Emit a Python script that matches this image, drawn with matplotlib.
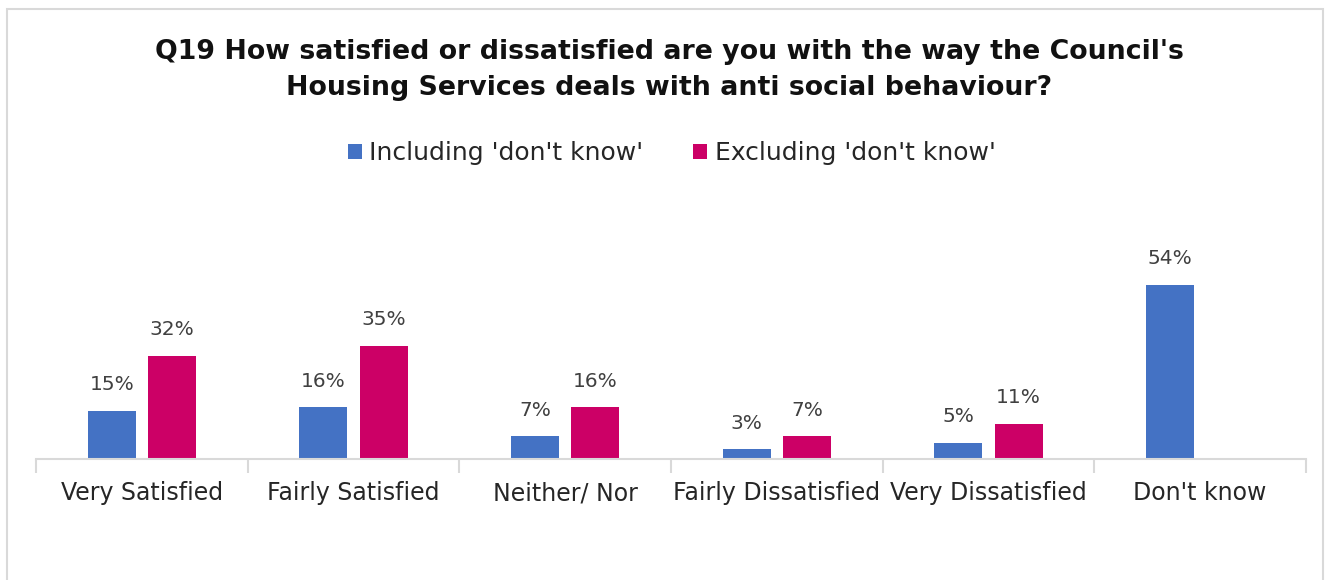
import matplotlib
matplotlib.use("Agg")
import matplotlib.pyplot as plt
import numpy as np
from matplotlib.patches import Rectangle

categories = ["Very Satisfied", "Fairly Satisfied", "Neither/ Nor",
              "Fairly Dissatisfied", "Very Dissatisfied", "Don't know"]
including_dk = [15, 16, 7, 3, 5, 54]
excluding_dk = [32, 35, 16, 7, 11, None]
series_names = ["Including 'don't know'", "Excluding 'don't know'"]
title = ("Q19 How satisfied or dissatisfied are you with the way the Council's\n"
         "Housing Services deals with anti social behaviour?")

blue = "#4472C4"
magenta = "#CC0066"
grey = "#D9D9D9"
font = ["DejaVu Sans"]

W, H = 1330, 580
fig = plt.figure(figsize=(W / 100, H / 100), dpi=100)

# light frame around the chart
fig.patches.append(Rectangle((7 / W, -0.01), (1323 - 7) / W, (H - 9) / H + 0.01,
                             transform=fig.transFigure, fill=False,
                             edgecolor=grey, linewidth=1.5))

ax = fig.add_axes([36 / W, (H - 459) / H, (1306 - 36) / W, (459 - 201) / H])

x = np.arange(len(categories))
bw = 0.227
off = 0.142

inc_x = x - off
exc_x = [xi + off for xi, v in zip(x, excluding_dk) if v is not None]
exc_v = [v for v in excluding_dk if v is not None]

b1 = ax.bar(inc_x, including_dk, width=bw, color=blue, label=series_names[0])
b2 = ax.bar(exc_x, exc_v, width=bw, color=magenta, label=series_names[1])

for rects, vals in ((b1, including_dk), (b2, exc_v)):
    for r, v in zip(rects, vals):
        ax.annotate(f"{v}%", (r.get_x() + r.get_width() / 2, v),
                    xytext=(0, 12), textcoords="offset points",
                    ha="center", va="bottom", fontsize=14.5,
                    color="#404040", family=font)

ax.set_xlim(-0.5, len(categories) - 0.5)
ax.set_ylim(0, 80)
ax.set_yticks([])
for s in ("top", "right", "left"):
    ax.spines[s].set_visible(False)
ax.spines["bottom"].set_color(grey)
ax.spines["bottom"].set_linewidth(1.5)

# category boundary tick marks
ax.set_xticks(np.arange(-0.5, len(categories)), minor=False)
ax.set_xticklabels([])
ax.tick_params(axis="x", which="major", length=10, width=1.5, color=grey,
               direction="out")
ax.set_xticks(x, minor=True)
ax.set_xticklabels(categories, minor=True, fontsize=17, color="#262626",
                   family=font)
ax.tick_params(axis="x", which="minor", length=0, pad=16)

fig.text(0.503, (H - 70) / H, title, ha="center", va="center",
         fontsize=19.3, fontweight="bold", color="#111111", family=font,
         linespacing=1.5)

leg = fig.legend(handles=[b1, b2], labels=series_names,
                 loc="center", bbox_to_anchor=(0.505, (H - 153) / H),
                 ncol=2, frameon=False, handlelength=0.55,
                 handleheight=0.55, handletextpad=0.3, columnspacing=2.0,
                 prop={"family": font, "size": 18})
for t in leg.get_texts():
    t.set_color("#262626")

fig.savefig("out.png", dpi=100, facecolor="white")
